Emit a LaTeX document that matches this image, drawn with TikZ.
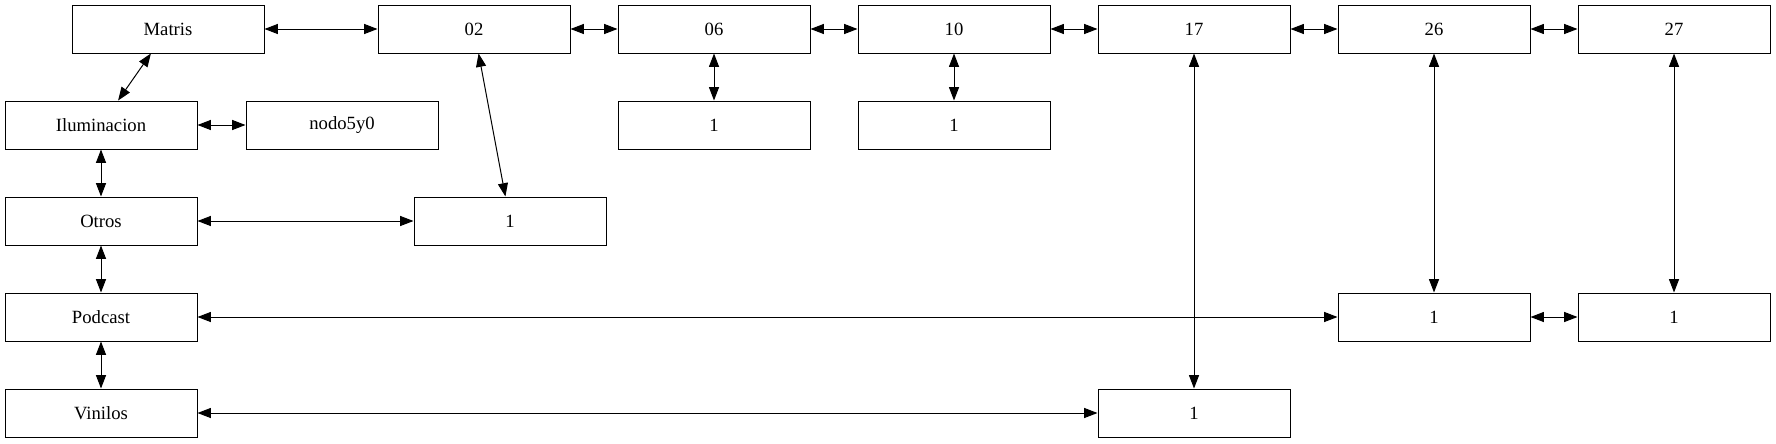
\documentclass[tikz,border=0pt]{standalone}
\usepackage{fontspec}
\setmainfont{Liberation Serif}
\usetikzlibrary{arrows.meta}
\newcommand{\cajaancho}{144pt}

\begin{document}
\begin{tikzpicture}[x=.75pt,y=-.75pt,line width=.75pt,
        >={Triangle[length=10pt,width=7.5pt]},
        caja/.style={draw, rectangle, minimum width=\cajaancho, minimum height=36pt,
                inner sep=0pt, font=\fontsize{14}{16}\selectfont}]
        \useasboundingbox (0,0) rectangle (1776,443);

        \node (matris) at (168,29)  [caja] {Matris};
        \node (n02)    at (474,29)  [caja] {02};
        \foreach \n/\pos in {06/714,10/954,17/1194,26/1434,27/1674}
                 {
                   \node (n\n) at (\pos,29)  [caja] {\n};
                 }

        \node (ilum)    at (101,125) [caja] {Iluminacion};
        \node (nodo5y0) at (342,125) [caja] {nodo5y0};
        \node (uno06)   at (714,125) [caja] {1};
        \node (uno10)   at (954,125) [caja] {1};
        \node (otros)   at (101,221) [caja] {Otros};
        \node (uno02)   at (510,221) [caja] {1};
        \node (podcast) at (101,317) [caja] {Podcast};
        \node (uno26)   at (1434,317) [caja] {1};
        \node (uno27)   at (1674,317) [caja] {1};
        \node (vinilos) at (101,413) [caja] {Vinilos};
        \node (uno17)   at (1194,413) [caja] {1};

        \draw[<->] (matris) to (n02);
        \foreach \a/\b in {n02/n06,n06/n10,n10/n17,n17/n26,n26/n27}
                 \draw[<->] (\a) to (\b);
        \foreach \a/\b in {matris/ilum,ilum/nodo5y0,ilum/otros,otros/podcast,podcast/vinilos,
                n02/uno02,otros/uno02,n06/uno06,n10/uno10,n17/uno17,vinilos/uno17,
                n26/uno26,podcast/uno26,n27/uno27,uno26/uno27}
                 \draw[<->] (\a) to (\b);
      \end{tikzpicture}
\end{document}
